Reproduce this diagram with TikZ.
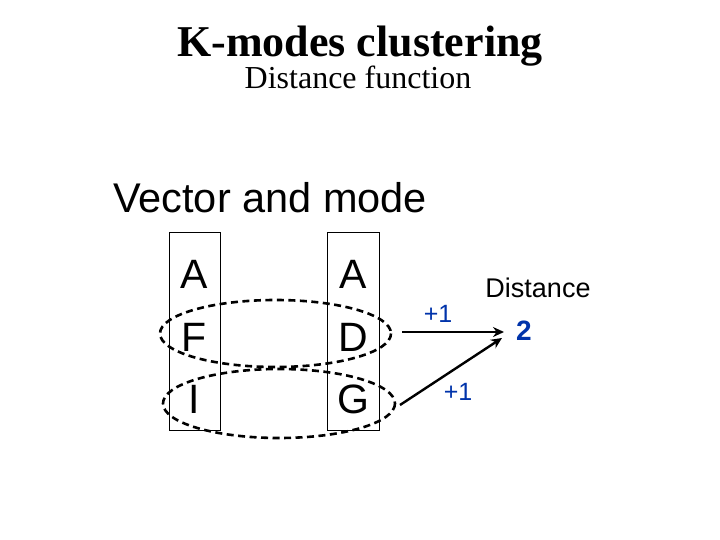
\documentclass[tikz,border=0pt]{standalone}
\usepackage{fontspec}
\usetikzlibrary{arrows.meta}
\setmainfont{Liberation Serif}
\setsansfont{Liberation Sans}
\definecolor{numblue}{RGB}{0,51,170}
\begin{document}
\begin{tikzpicture}[x=1pt,y=-1pt,
  letter/.style={font=\sffamily\fontsize{41}{41}\selectfont, inner sep=0pt, anchor=base},
  colbox/.style={draw, line width=0.8pt, inner sep=0pt},
  cluster/.style={draw, line width=2.6pt, dash pattern=on 7pt off 4.5pt},
  arr/.style={-{Stealth[length=11pt,width=10pt]}, line width=2.4pt},
  plus/.style={font=\sffamily\fontsize{25}{25}\selectfont, text=numblue, inner sep=0pt}
]
\useasboundingbox (0,0) rectangle (720,540);
\node[font=\bfseries\fontsize{44}{44}\selectfont, anchor=base, inner sep=0pt] (title) at (360,57) {K-modes clustering};
\node[font=\fontsize{32}{32}\selectfont, anchor=base, inner sep=0pt] (sub) at (358,89) {Distance function};
\node[font=\sffamily\fontsize{41.5}{41.5}\selectfont, anchor=base west, inner sep=0pt] (vm) at (113,212) {Vector and mode};

\node[colbox, minimum width=51pt, minimum height=198pt] (lbox) at (194.5,331) {};
\node[colbox, minimum width=52pt, minimum height=198pt] (rbox) at (353,331) {};

\node[letter] (a1) at (194.5,288) {A};
\node[letter] (f1) at (194.5,351) {F};
\node[letter] (i1) at (194.5,413) {I};
\node[letter] (a2) at (353,288) {A};
\node[letter] (d2) at (353,351) {D};
\node[letter] (g2) at (353,413) {G};

\draw[cluster] (275.5,333.5) ellipse [x radius=115.5, y radius=33.5];
\draw[cluster] (279,403.5) ellipse [x radius=116, y radius=34.5];

\coordinate (s1) at (402,332);
\coordinate (s2) at (400,405);
\coordinate (t1) at (504,332);
\coordinate (t2) at (502,338);
\draw[arr] (s1) -- (t1);
\draw[arr] (s2) -- (t2);

\node[plus] (p1) at (438,314) {+1};
\node[plus] (p2) at (458,392) {+1};
\node[font=\sffamily\bfseries\fontsize{28}{28}\selectfont, text=numblue, inner sep=0pt] (two) at (524,331) {2};
\node[font=\sffamily\fontsize{27}{27}\selectfont, anchor=base, inner sep=0pt] (dist) at (538,297) {Distance};
\end{tikzpicture}
\end{document}
